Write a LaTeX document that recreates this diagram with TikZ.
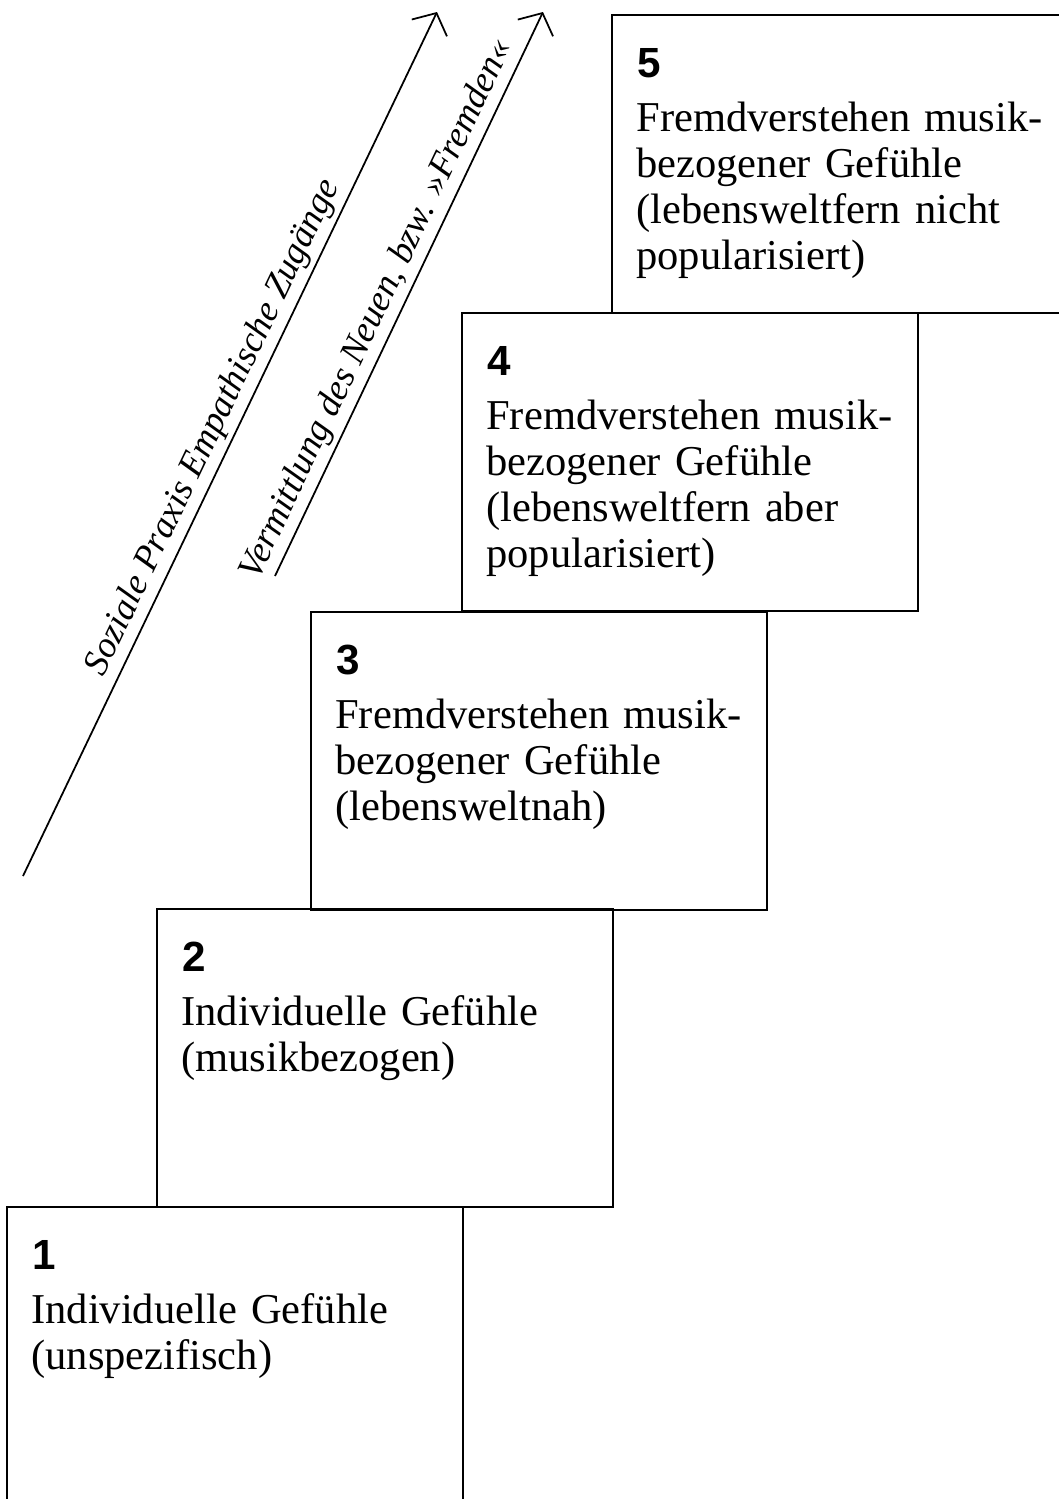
\documentclass[tikz,border=0pt]{standalone}
\usepackage{fontspec}
\setmainfont{Liberation Serif}
\newfontfamily\numfont{Liberation Sans}
\usetikzlibrary{arrows.meta,positioning}

\tikzset{
  stair/.style={draw, line width=1.5pt, inner sep=0pt, outer sep=0pt, anchor=north west,
    minimum width=9.12cm, minimum height=5.96cm},
  stepnum/.style={anchor=base west, inner sep=0pt, font=\numfont\bfseries\fontsize{24}{26}\selectfont},
  steptext/.style={anchor=base west, inner sep=0pt, text width=8.6cm, align=left,
    font=\fontsize{24.2}{26.2}\selectfont},
  trend/.style={line width=1pt, -{Straight Barb[length=0.33cm,width=0.78cm]}},
  trendlabel/.style={sloped, above, inner sep=2.5pt, font=\itshape\fontsize{20.8}{24}\selectfont}
}

\begin{document}
\begin{tikzpicture}
\useasboundingbox (0,0) rectangle (21.18,-29.98);
\clip (0,0) rectangle (21.18,-29.98);

% Stufen
\node[stair, minimum height=7cm] (s1) at (0.14,-24.14) {};
\node[stair] (s2) at (3.14,-18.18) {};
\node[stair] (s3) at (6.22,-12.24) {};
\node[stair] (s4) at (9.24,-6.26) {};
\node[stair, minimum width=10cm] (s5) at (12.24,-0.30) {};

\node[stepnum] (n1) at ([shift={(0.5,-1.24)}]s1.north west) {1};
\node[stepnum] (n2) at ([shift={(0.5,-1.24)}]s2.north west) {2};
\node[stepnum] (n3) at ([shift={(0.5,-1.24)}]s3.north west) {3};
\node[stepnum] (n4) at ([shift={(0.5,-1.24)}]s4.north west) {4};
\node[stepnum] (n5) at ([shift={(0.5,-1.24)}]s5.north west) {5};

\node[steptext] (t1) at ([shift={(0.48,-2.32)}]s1.north west)
  {Individuelle Gefühle\\(unspezifisch)};
\node[steptext] (t2) at ([shift={(0.48,-2.32)}]s2.north west)
  {Individuelle Gefühle\\(musikbezogen)};
\node[steptext] (t3) at ([shift={(0.48,-2.32)}]s3.north west)
  {Fremdverstehen musik-\\bezogener Gefühle\\(lebensweltnah)};
\node[steptext] (t4) at ([shift={(0.48,-2.32)}]s4.north west)
  {Fremdverstehen musik-\\bezogener Gefühle\\(lebensweltfern aber\\popularisiert)};
\node[steptext] (t5) at ([shift={(0.48,-2.32)}]s5.north west)
  {Fremdverstehen musik-\\bezogener Gefühle\\(lebensweltfern nicht\\popularisiert)};

% Pfeile
\coordinate (soz0) at (0.46,-17.52);
\coordinate (soz1) at (8.74,-0.24);
\coordinate (ver0) at (5.50,-11.52);
\coordinate (ver1) at (10.86,-0.24);

\draw[trend] (soz0) -- node[trendlabel, pos=0.508] (lsoz) {Soziale Praxis Empathische Zugänge} (soz1);
\draw[trend] (ver0) -- node[trendlabel, pos=0.455] (lver) {Vermittlung des Neuen, bzw. »Fremden«} (ver1);
\end{tikzpicture}
\end{document}
